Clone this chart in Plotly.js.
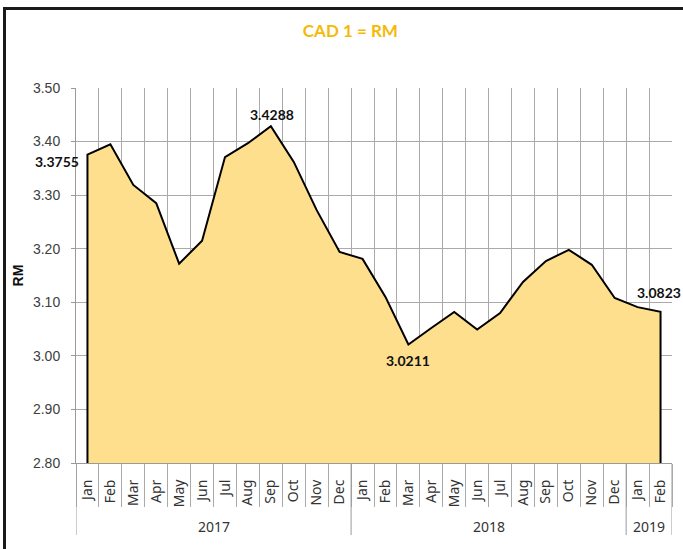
<!DOCTYPE html>
<html>
<head>
<meta charset="utf-8">
<script src="https://cdn.plot.ly/plotly-3.0.1.min.js"></script>
<style>
  html, body { margin: 0; padding: 0; background: #fff; overflow: hidden; }
  #wrap { position: relative; width: 683px; height: 549px; }
  #chart { position: absolute; left: 0; top: 0; width: 683px; height: 549px; }
  #frame { position: absolute; left: 3px; top: 7px; width: 900px; height: 900px;
           border: 3px solid #1a1a1a; pointer-events: none; }
</style>
</head>
<body>
<div id="wrap">
  <div id="chart"></div>
  <div id="frame"></div>
</div>
<script>
// ---- data ----
const months = ["Jan","Feb","Mar","Apr","May","Jun","Jul","Aug","Sep","Oct","Nov","Dec",
                "Jan","Feb","Mar","Apr","May","Jun","Jul","Aug","Sep","Oct","Nov","Dec",
                "Jan","Feb"];
const years = ["2017", "2018", "2019"];
const monthsPerYear = [12, 12, 2];
const rates = [3.3755, 3.395, 3.319, 3.285, 3.172, 3.215, 3.371, 3.397, 3.4288, 3.362, 3.272, 3.194,
               3.181, 3.110, 3.0211, 3.052, 3.082, 3.049, 3.080, 3.138, 3.177, 3.198, 3.170, 3.108,
               3.091, 3.0823];
const labelled = [
  {i: 0,  text: "3.3755"},
  {i: 8,  text: "3.4288"},
  {i: 14, text: "3.0211"},
  {i: 25, text: "3.0823"}
];
const yMin = 2.80, yMax = 3.50;

// ---- build ----
const idx = months.map((m, i) => i);
const n = months.length;
const xs = [0].concat(idx, [n - 1]);
const ys = [yMin].concat(rates, [yMin]);

const trace = {
  x: xs, y: ys, type: "scatter", mode: "lines",
  fill: "toself", fillcolor: "#FDDF8D",
  line: {color: "#000", width: 2},
  hoverinfo: "skip", showlegend: false
};

const boundaries = [];
for (let i = 0; i <= n; i++) boundaries.push(i - 0.5);

const annotations = [];
const shapes = [];
// year labels & separators
let start = 0;
const sepDrop = -0.192;
shapes.push({type: "line", xref: "x", yref: "paper", x0: -0.5, x1: -0.5, y0: 0, y1: sepDrop,
             line: {color: "#9a9a9a", width: 1}});
years.forEach((yr, k) => {
  const end = start + monthsPerYear[k];
  annotations.push({x: (start + end - 1) / 2, xref: "x", y: -0.17, yref: "paper",
    text: yr, showarrow: false, yanchor: "middle",
    font: {family: "Noto Sans, Open Sans, sans-serif", size: 14, color: "#333"}});
  shapes.push({type: "line", xref: "x", yref: "paper", x0: end - 0.5, x1: end - 0.5, y0: 0, y1: sepDrop,
               line: {color: "#9a9a9a", width: 1}});
  start = end;
});

// value labels
const lblFont = {family: "Lato, Liberation Sans, sans-serif", size: 14, color: "#111"};
labelled.forEach(l => {
  const a = {x: l.i, y: rates[l.i], xref: "x", yref: "y", text: "<b>" + l.text + "</b>",
             showarrow: false, font: lblFont};
  if (l.i === 0) { a.xanchor = "right"; a.xshift = -6; a.yshift = -7; }
  else if (l.i === 8) { a.xanchor = "center"; a.xshift = 1; a.yshift = 12; }
  else if (l.i === 14) { a.xanchor = "center"; a.yshift = -16; }
  else { a.xanchor = "left"; a.xshift = -26; a.yshift = 19; }
  annotations.push(a);
});

const layout = {
  width: 683, height: 549,
  margin: {l: 76, r: 11, t: 88, b: 86},
  paper_bgcolor: "rgba(0,0,0,0)", plot_bgcolor: "#fff",
  title: {text: "<b>CAD 1 = RM</b>", x: 0.513, xanchor: "center", y: 0.944, yanchor: "middle",
          font: {family: "Lato, Liberation Sans, sans-serif", size: 17, color: "#F5B90A"}},
  xaxis: {
    range: [-0.5, n - 0.5], tickmode: "array", tickvals: idx, ticktext: months,
    tickangle: -90, ticks: "outside", ticklen: 0, tickcolor: "rgba(0,0,0,0)",
    ticklabelstandoff: 10,
    tickfont: {family: "Noto Sans, Open Sans, sans-serif", size: 14, color: "#333"},
    showgrid: false, zeroline: false, showline: true, linecolor: "#9a9a9a", linewidth: 1,
    minor: {tickmode: "array", tickvals: boundaries, showgrid: true, gridcolor: "#aaaaaa",
            gridwidth: 1, ticks: "outside", ticklen: 43, tickcolor: "#aaaaaa", tickwidth: 1},
    fixedrange: true
  },
  yaxis: {
    range: [yMin, yMax], tickmode: "linear", tick0: 2.8, dtick: 0.1, tickformat: ".2f",
    ticks: "outside", ticklen: 4, tickcolor: "#9a9a9a", ticklabelstandoff: 8,
    tickfont: {family: "Liberation Sans, Arial, sans-serif", size: 14, color: "#404040"},
    showgrid: true, gridcolor: "#aaaaaa", gridwidth: 1, zeroline: false,
    showline: true, linecolor: "#9a9a9a", linewidth: 1,
    title: {text: "<b>RM</b>", standoff: 6,
            font: {family: "Liberation Sans, Arial, sans-serif", size: 14, color: "#111"}},
    fixedrange: true
  },
  annotations: annotations,
  shapes: shapes
};

Plotly.newPlot("chart", [trace], layout, {displayModeBar: false, staticPlot: true});
</script>
</body>
</html>
